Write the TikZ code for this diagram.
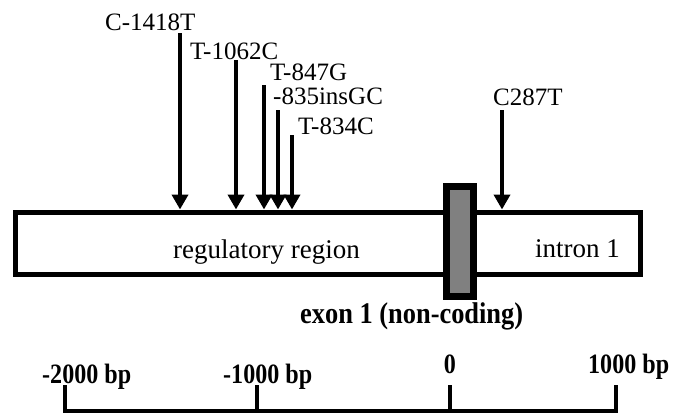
\documentclass[tikz,border=0pt]{standalone}
\usepackage{fontspec}
\setmainfont{Liberation Serif}
\usetikzlibrary{arrows.meta}
\begin{document}
\begin{tikzpicture}[x=1pt,y=-1pt,
  lbl/.style={anchor=base west,inner sep=0pt,font=\fontsize{25}{25}\selectfont},
  boxtxt/.style={anchor=base west,inner sep=0pt,font=\fontsize{27}{27}\selectfont},
  scl/.style={anchor=base west,inner sep=0pt,font=\fontsize{28}{28}\selectfont\bfseries},
  arr/.style={line width=4pt,-{Triangle[length=15pt,width=16pt]}},
  axis/.style={line width=4pt,line cap=butt,line join=miter}]
\useasboundingbox (0,0) rectangle (690,413);
% main box
\node[draw,line width=5pt,minimum width=624.5pt,minimum height=62pt,inner sep=0pt] (reg) at (327.75,243) {};
% exon
\node[draw,line width=7pt,fill=black!50,minimum width=27pt,minimum height=110pt,inner sep=0pt] (exon) at (460,241.5) {};
% texts inside
\node[boxtxt] (tr) at (173,258) {regulatory region};
\node[boxtxt] (ti) at (535,257) {intron 1};
\node[anchor=base west,inner sep=0pt,font=\fontsize{30}{30}\selectfont\bfseries] (te) at (300,323) {\scalebox{0.88}[1]{exon 1 (non-coding)}};
% arrows
\coordinate (a1) at (180,33);
\coordinate (a2) at (236,60);
\coordinate (a3) at (264,85);
\coordinate (a4) at (278,110);
\coordinate (a5) at (292,135);
\coordinate (a6) at (502,110);
\foreach \c in {a1,a2,a3,a4,a5,a6} \draw[arr] (\c) -- (\c |- reg.north);
% labels
\node[lbl] (l1) at (105,30) {C-1418T};
\node[lbl] (l2) at (190,59) {T-1062C};
\node[lbl] (l3) at (270,80) {T-847G};
\node[lbl] (l4) at (273,104) {-835insGC};
\node[lbl] (l5) at (298,134) {T-834C};
\node[lbl] (l6) at (493,105) {C287T};
% scale
\coordinate (s1) at (65,411);
\coordinate (s2) at (257,411);
\coordinate (s3) at (450,411);
\coordinate (s4) at (616,411);
\draw[axis] ([yshift=26pt]s1) -- (s1) -- (s4) -- ([yshift=26pt]s4);
\draw[axis] ([yshift=26pt]s2) -- (s2);
\draw[axis] ([yshift=26pt]s3) -- (s3);
\node[scl] (c1) at (42,383) {\scalebox{0.86}[1]{-2000 bp}};
\node[scl] (c2) at (223,383) {\scalebox{0.86}[1]{-1000 bp}};
\node[scl,anchor=base] (c3) at (450,373) {\scalebox{0.86}[1]{0}};
\node[scl] (c4) at (588,373) {\scalebox{0.86}[1]{1000 bp}};
\end{tikzpicture}
\end{document}
